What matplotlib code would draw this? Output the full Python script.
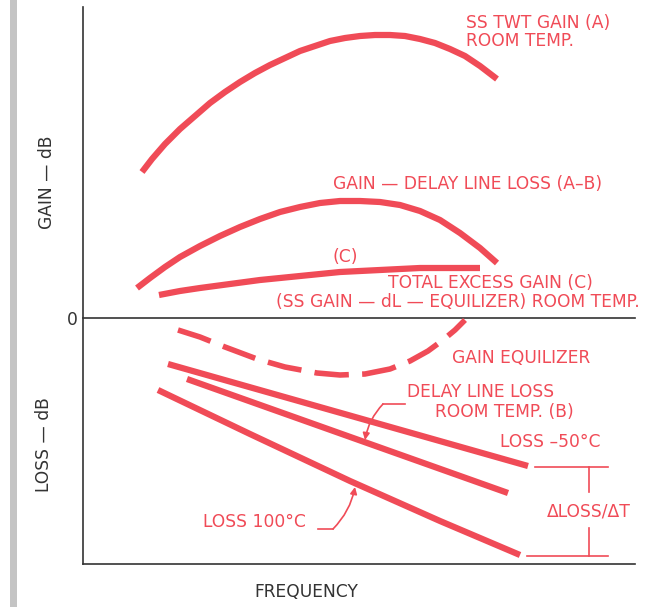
"""Gain / loss vs frequency sketch (delay line equalizer diagram)."""

import matplotlib
matplotlib.use('Agg')
from matplotlib import pyplot as plt
from matplotlib.patches import Rectangle, FancyArrowPatch

RED = '#f04b57'
INK = '#333333'

# curves, in picture units (x to the right, y downwards)
twt_x = [142, 152, 165, 180, 195, 210, 225, 240, 255, 270, 285, 300, 315, 330, 345,
         360, 375, 390, 405, 420, 435, 450, 465, 480, 497]
twt_y = [172, 159, 144, 129, 116, 103, 92, 82, 73, 65, 58, 51, 46, 41, 38,
         36, 35, 35, 36, 39, 43, 49, 56, 66, 79]

ab_x = [137, 150, 165, 180, 200, 220, 240, 260, 280, 300, 320, 340, 360, 380,
        400, 420, 440, 460, 480, 497]
ab_y = [288, 278, 267, 257, 246, 236, 227, 219, 212, 207, 203, 201, 201, 202,
        205, 211, 220, 233, 248, 263]

c_x = [159, 180, 200, 230, 260, 300, 340, 380, 420, 480]
c_y = [295, 291, 288, 284, 280, 276, 272, 270, 268, 268]

eq_x = [178, 200, 225, 257, 285, 317, 340, 365, 390, 410, 428, 443, 455, 465]
eq_y = [330, 337, 347, 359, 367, 373, 375, 374, 369, 361, 351, 340, 330, 320]

loss_cold_x = [168, 528]
loss_cold_y = [364, 466]
loss_room_x = [187, 508]
loss_room_y = [379, 493]
loss_hot_x = [158, 250, 350, 440, 520]
loss_hot_y = [390, 434, 481, 521, 555]

# frame
x_axis = 83
top_y = 7
zero_y = 318
bottom_y = 564
right_x = 635

fig = plt.figure(figsize=(6.48, 6.07), dpi=100)
ax = fig.add_axes([0, 0, 1, 1])
ax.set_xlim(0, 648)
ax.set_ylim(607, 0)
ax.axis('off')

# grey binding strip on the left
ax.add_patch(Rectangle((10, 0), 7, 607, color='#c4c4c4', lw=0))

ax.plot([x_axis, x_axis], [top_y, bottom_y], color=INK, lw=1.2)
ax.plot([x_axis, right_x], [zero_y, zero_y], color=INK, lw=1.2)
ax.plot([x_axis, right_x], [bottom_y, bottom_y], color=INK, lw=1.2)

lw = 4.5
for xs, ys in [(twt_x, twt_y), (ab_x, ab_y), (c_x, c_y),
               (loss_cold_x, loss_cold_y), (loss_room_x, loss_room_y),
               (loss_hot_x, loss_hot_y)]:
    ax.plot(xs, ys, color=RED, lw=lw, solid_capstyle='butt', solid_joinstyle='round')
ax.plot(eq_x, eq_y, color=RED, lw=4, dashes=(6.2, 2.4), dash_capstyle='butt',
        dash_joinstyle='round')

fs = 12.3
txt = dict(color=RED, fontsize=fs, va='center', ha='left')
ax.text(466, 23, 'SS TWT GAIN (A)', **txt)
ax.text(466, 41, 'ROOM TEMP.', **txt)
ax.text(333, 184, 'GAIN \u2014 DELAY LINE LOSS (A\u2013B)', **txt)
ax.text(333, 257, '(C)', **txt)
ax.text(388, 283, 'TOTAL EXCESS GAIN (C)', **txt)
ax.text(640, 302, '(SS GAIN \u2014 dL \u2014 EQUILIZER) ROOM TEMP.',
        **{**txt, 'ha': 'right'})
ax.text(452, 358, 'GAIN EQUILIZER', **txt)
ax.text(407, 392, 'DELAY LINE LOSS', **txt)
ax.text(435, 412, 'ROOM TEMP. (B)', **txt)
ax.text(500, 442, 'LOSS \u201350\u00b0C', **txt)
ax.text(203, 522, 'LOSS 100\u00b0C', **txt)
ax.text(589, 512, '\u0394LOSS/\u0394T', **{**txt, 'ha': 'center'})

# leaders with arrows
def leader(x0, x1, y, tip):
    ax.plot([x0, x1], [y, y], color=RED, lw=1.2)
    ax.add_patch(FancyArrowPatch((x0, y), tip, arrowstyle='-|>', mutation_scale=10,
                                 color=RED, lw=1.2, shrinkA=0, shrinkB=0,
                                 connectionstyle='arc3,rad=0.15'))

leader(383, 405, 404, (365, 440))
leader(333, 318, 529, (355, 487))

# delta loss bracket
ax.plot([535, 608], [467, 467], color=RED, lw=1.2)
ax.plot([527, 608], [556, 556], color=RED, lw=1.2)
ax.plot([589, 589], [467, 492], color=RED, lw=1.2)
ax.plot([589, 589], [528, 556], color=RED, lw=1.2)

# black labels
ax.text(306, 592, 'FREQUENCY', color=INK, fontsize=fs, ha='center', va='center')
ax.text(72, 320, '0', color=INK, fontsize=fs, ha='center', va='center')
ax.text(47, 182, 'GAIN \u2014 dB', color=INK, fontsize=fs, ha='center',
        va='center', rotation=90)
ax.text(44, 445, 'LOSS \u2014 dB', color=INK, fontsize=fs, ha='center',
        va='center', rotation=90)

fig.savefig('out.png', dpi=100)
